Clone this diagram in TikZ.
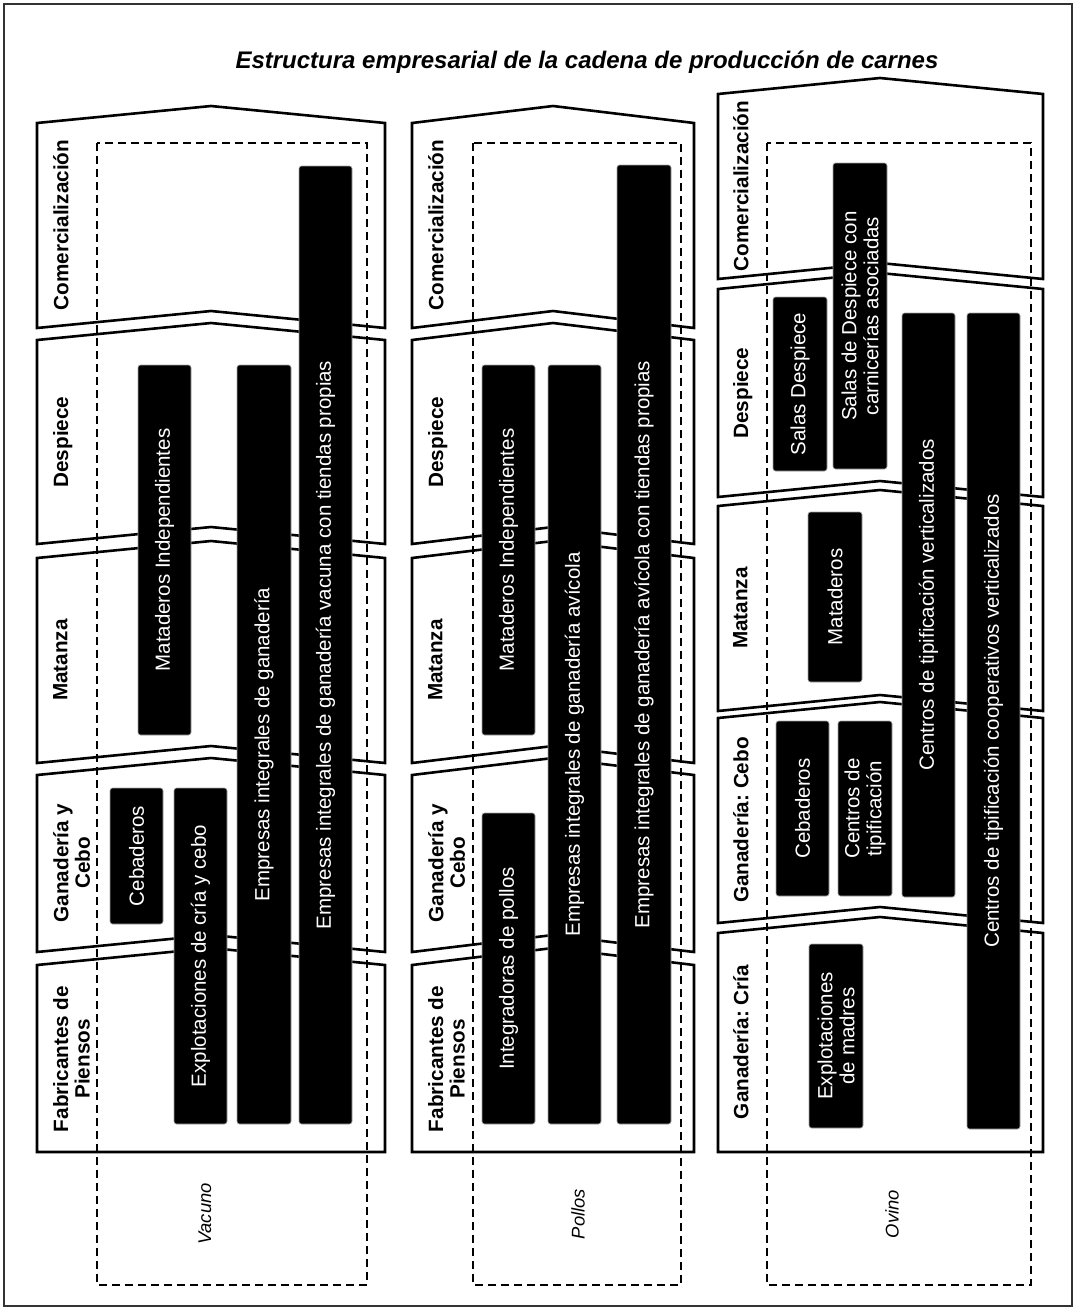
\documentclass[tikz,border=0pt]{standalone}
\usepackage{fontspec}
\setmainfont{Liberation Sans}
\frenchspacing
\tikzset{
  frame/.style={draw=black!80,line width=1.2pt},
  stage/.style={draw=black,line width=2.6pt,fill=white,line join=miter},
  group/.style={draw=black,line width=1.6pt,dash pattern=on 8pt off 5pt},
  firm/.style={fill=black,draw=gray!70,line width=0.6pt,rounded corners=2.5pt,
    text=white,rotate=90,align=center,font=\fontsize{20.5}{22}\selectfont},
  stagelbl/.style={rotate=90,anchor=north,align=center,font=\fontsize{20.7}{21.5}\selectfont\bfseries},
  species/.style={rotate=90,font=\fontsize{18.4}{20}\selectfont\itshape},
  heading/.style={font=\fontsize{24}{26}\selectfont\bfseries\itshape}
}
\begin{document}
\begin{tikzpicture}[x=1pt,y=-1pt,every node/.style={inner sep=0pt}]
  \useasboundingbox (0,0) rectangle (1076,1310);
  \draw[frame] (4,4) rectangle (1072,1306);

  % Title
  \node[heading] (title) at (587,62) {Estructura empresarial de la cadena de producción de carnes};

  % Stages: Vacuno
  \foreach \t/\b in {123/328,340/544,558/763,775/952}
    \draw[stage] (37,\t) -- (211,\t-17) -- (385,\t) -- (385,\b) -- (211,\b-17) -- (37,\b) -- cycle;
  \draw[stage] (37,965) -- (211,948) -- (385,965) -- (385,1152) -- (37,1152) -- cycle;

  % Stages: Pollos
  \foreach \t/\b in {123/328,340/544,558/763,775/952}
    \draw[stage] (412,\t) -- (553,\t-17) -- (694,\t) -- (694,\b) -- (553,\b-17) -- (412,\b) -- cycle;
  \draw[stage] (412,965) -- (553,948) -- (694,965) -- (694,1152) -- (412,1152) -- cycle;

  % Stages: Ovino
  \foreach \t/\b in {94/279,289/497,506/711,718/923}
    \draw[stage] (718,\t) -- (880,\t-16) -- (1043,\t) -- (1043,\b) -- (880,\b-16) -- (718,\b) -- cycle;
  \draw[stage] (718,933) -- (880,917) -- (1043,933) -- (1043,1152) -- (718,1152) -- cycle;

  % Species groups
  \draw[group] (97,143) rectangle (367,1285);
  \draw[group] (473,143) rectangle (681,1285);
  \draw[group] (767,143) rectangle (1031,1285);
  \node[species] (vacuno) at (205,1214) {Vacuno};
  \node[species] (pollos) at (578,1214) {Pollos};
  \node[species] (ovino) at (892,1214) {Ovino};

  % Firms: Vacuno
  \node[firm,minimum width=136pt,minimum height=53pt] (v-ceb) at (136.5,856) {Cebaderos};
  \node[firm,minimum width=336pt,minimum height=53pt] (v-expl) at (200.5,956) {Explotaciones de cría y cebo};
  \node[firm,minimum width=370pt,minimum height=53pt] (v-mat) at (164.5,550) {Mataderos Independientes};
  \node[firm,minimum width=759pt,minimum height=54pt] (v-emp) at (264,744.5) {Empresas integrales de ganadería};
  \node[firm,minimum width=958pt,minimum height=53pt] (v-tienda) at (325.5,645) {Empresas integrales de ganadería vacuna con tiendas propias};

  % Firms: Pollos
  \node[firm,minimum width=370pt,minimum height=53pt] (p-mat) at (508.5,550) {Mataderos Independientes};
  \node[firm,minimum width=311pt,minimum height=53pt] (p-int) at (508.5,968.5) {Integradoras de pollos};
  \node[firm,minimum width=759pt,minimum height=53pt] (p-emp) at (574.5,744.5) {Empresas integrales de ganadería avícola};
  \node[firm,minimum width=959pt,minimum height=54pt] (p-tienda) at (644,644.5) {Empresas integrales de ganadería avícola con tiendas propias};

  % Firms: Ovino
  \node[firm,minimum width=306pt,minimum height=54pt] (o-salascon) at (860,316) {Salas de Despiece con\\carnicerías asociadas};
  \node[firm,minimum width=174pt,minimum height=54pt] (o-salas) at (800,384) {Salas Despiece};
  \node[firm,minimum width=170pt,minimum height=54pt] (o-mat) at (835,597) {Mataderos};
  \node[firm,minimum width=175pt,minimum height=53pt] (o-ceb) at (802.5,808.5) {Cebaderos};
  \node[firm,minimum width=175pt,minimum height=54pt] (o-cent) at (865,808.5) {Centros de\\tipificación};
  \node[firm,minimum width=584pt,minimum height=53pt] (o-cver) at (928.5,605) {Centros de tipificación verticalizados};
  \node[firm,minimum width=816pt,minimum height=53pt] (o-coop) at (993.5,721) {Centros de tipificación cooperativos verticalizados};
  \node[firm,minimum width=184pt,minimum height=54pt] (o-madres) at (836,1036) {Explotaciones\\de madres};

  % Stage labels
  \node[stagelbl] (v-com) at (53,225) {Comercialización};
  \node[stagelbl] (v-desp) at (53,442) {Despiece};
  \node[stagelbl] (v-mtz) at (53,660) {Matanza};
  \node[stagelbl] (v-gan) at (53,863) {Ganadería y\\Cebo};
  \node[stagelbl] (v-fab) at (53,1059) {Fabricantes de\\Piensos};

  \node[stagelbl] (p-com) at (428,225) {Comercialización};
  \node[stagelbl] (p-desp) at (428,442) {Despiece};
  \node[stagelbl] (p-mtz) at (428,660) {Matanza};
  \node[stagelbl] (p-gan) at (428,863) {Ganadería y\\Cebo};
  \node[stagelbl] (p-fab) at (428,1059) {Fabricantes de\\Piensos};

  \node[stagelbl] (o-com) at (733,186) {Comercialización};
  \node[stagelbl] (o-desp) at (733,393) {Despiece};
  \node[stagelbl] (o-mtz) at (733,608) {Matanza};
  \node[stagelbl] (o-cebo) at (733,820) {Ganadería: Cebo};
  \node[stagelbl] (o-cria) at (733,1042) {Ganadería: Cría};
\end{tikzpicture}
\end{document}
